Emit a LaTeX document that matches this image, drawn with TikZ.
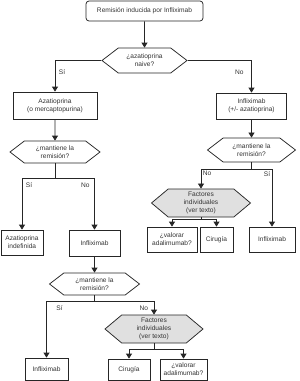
\documentclass[tikz,border=0pt]{standalone}
\usepackage{fontspec}
\setmainfont{Liberation Sans}
\usetikzlibrary{shapes.symbols,arrows.meta}
\begin{document}
\begin{tikzpicture}[x=1pt,y=-1pt,>={Triangle[length=5pt,width=6pt]},
  every node/.style={font=\fontsize{6.6}{8}\selectfont,text=black!80,align=center},
  box/.style={draw=black!85,line width=0.75pt,rectangle,inner sep=1pt},
  query/.style={draw=black!85,line width=0.75pt,signal,signal to=east and west,signal pointer angle=75,inner sep=0pt},
  factor/.style={query,fill=black!12,signal pointer angle=80},
  link/.style={->,line width=0.75pt,black!85},
  lbl/.style={inner sep=1.5pt}]
\useasboundingbox (0,0) rectangle (300,381);
\node[box,rounded corners=3pt,minimum width=117,minimum height=20] (s) at (144.5,11) {Remisión inducida por Infliximab};
\node[query,minimum width=85,minimum height=25] (q1) at (144.5,60.5) {¿azatioprina\\naive?};
\node[box,minimum width=84,minimum height=27] (a1) at (55,105.5) {Azatioprina\\(o mercaptopurina)};
\node[box,minimum width=70,minimum height=26] (i1) at (251.5,106) {Infliximab\\(+/- azatioprina)};
\node[query,minimum width=90,minimum height=22] (q2) at (55,152) {¿mantiene la\\remisión?};
\node[query,minimum width=88,minimum height=24] (q4) at (251.5,150) {¿mantiene la\\remisión?};
\node[box,minimum width=42,minimum height=25] (a2) at (22,242.5) {Azatioprina\\indefinida};
\node[box,minimum width=51,minimum height=26] (i2) at (94.5,243) {Infliximab};
\node[factor,minimum width=99,minimum height=28] (f1) at (201,203) {Factores\\individuales\\(ver texto)};
\node[box,minimum width=50,minimum height=25] (v1) at (172,239.5) {¿valorar\\adalimumab?};
\node[box,minimum width=33,minimum height=25] (c1) at (216.5,239.5) {Cirugía};
\node[box,minimum width=46,minimum height=25] (i4) at (272,239.5) {Infliximab};
\node[query,minimum width=90,minimum height=22] (q3) at (94.5,284) {¿mantiene la\\remisión?};
\node[factor,minimum width=98,minimum height=28] (f2) at (154,329) {Factores\\individuales\\(ver texto)};
\node[box,minimum width=43,minimum height=22] (i3) at (46.5,369) {Infliximab};
\node[box,minimum width=42,minimum height=21] (c2) at (129,369.5) {Cirugía};
\node[box,minimum width=47,minimum height=21] (v2) at (183.5,369.5) {¿valorar\\adalimumab?};
\draw[link] (s) -- (q1);
\draw[link] (q1.west) -| node[lbl,pos=0.68,right=2pt]{Sí} (a1);
\draw[link] (q1.east) -| node[lbl,pos=0.68,left=6pt]{No} (i1);
\draw[link] (a1) -- (q2);
\draw[link] (i1) -- (q4);
\draw[link] (q2.south) -- ++(0,15) -| node[lbl,pos=0.57,right=2pt]{Sí} (a2);
\draw[link] (q2.south) -- ++(0,15) -| node[lbl,pos=0.57,left=3pt]{No} (i2);
\draw[link] (q4.south) -- ++(0,7) -| node[lbl,pos=0.5,below right]{No} (f1);
\draw[link] (q4.south) -- ++(0,7) -| node[lbl,pos=0.5,below left]{Sí} (i4);
\draw[link] (f1.south) -- ++(0,2) -| (v1);
\draw[link] (f1.south) -- ++(0,2) -| (c1);
\draw[link] (i2) -- (q3);
\draw[link] (q3.south) -- ++(0,6) -| node[lbl,pos=0.56,right=8pt]{Sí} (i3);
\draw[link] (q3.south) -- ++(0,6) -| node[lbl,pos=0.75,left=4pt]{No} (f2);
\draw[link] (f2.south) -- ++(0,6) -| (c2);
\draw[link] (f2.south) -- ++(0,6) -| (v2);
\end{tikzpicture}
\end{document}
